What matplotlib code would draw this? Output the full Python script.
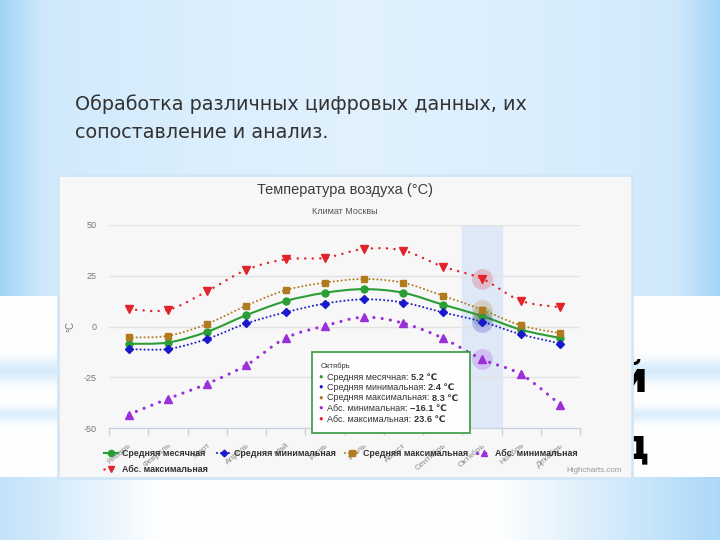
import numpy as np
import matplotlib
matplotlib.use("Agg")
import matplotlib.pyplot as plt
from matplotlib.path import Path
from matplotlib.patches import PathPatch, Rectangle
from matplotlib.lines import Line2D

plt.rcParams["font.family"] = ["Liberation Sans", "DejaVu Sans"]

# data (Moscow climate, deg C)
months = ["Январь", "Февраль", "Март", "Апрель", "Май", "Июнь",
          "Июль", "Август", "Сентябрь", "Октябрь", "Ноябрь", "Декабрь"]
avg_mean = [-8.5, -7.9, -2.6, 5.6, 12.5, 16.6, 18.4, 16.6, 10.8, 5.2, -1.6, -5.7]
avg_min = [-11.1, -11.1, -6.1, 1.5, 7.0, 11.3, 13.4, 11.8, 7.0, 2.4, -3.9, -8.4]
avg_max = [-5.4, -4.6, 1.3, 10.3, 17.9, 21.6, 23.4, 21.5, 15.2, 8.3, 0.5, -3.3]
abs_min = [-43.4, -35.6, -28.2, -19.0, -5.7, 0.3, 4.6, 1.6, -5.7, -16.1, -23.6, -38.5]
abs_max = [8.5, 8.2, 17.4, 27.9, 33.1, 33.8, 38.2, 37.4, 29.5, 23.6, 12.6, 9.5]
y_ticks = [-50, -25, 0, 25, 50]
series_names = ["Средняя месячная", "Средняя минимальная", "Средняя максимальная",
                "Абс. минимальная", "Абс. максимальная"]
highlight = 9  # October

W, H = 720, 540
fig = plt.figure(figsize=(7.2, 5.4), dpi=100)

# ---- slide background ----
yy, xx = np.mgrid[0:H, 0:W].astype(float)
light = np.array([0.88, 0.945, 0.995])
mid = np.array([0.80, 0.91, 0.985])
blue = np.array([0.64, 0.83, 0.97])
d = np.abs(xx - 360) / 360
bg = light + (mid - light) * np.clip(d, 0, 1)[..., None] ** 1.5
edge = np.clip((d - 0.88) / 0.12, 0, 1)
bg = bg + (blue - bg) * edge[..., None]
band = (yy >= 296) & (yy < 477)
white = np.array([0.995, 0.998, 1.0])
streak = np.array([0.80, 0.90, 0.975])
s = 0.75 * np.exp(-((yy - 370) / 11) ** 2) + 0.65 * np.exp(-((yy - 414) / 7) ** 2)
band_col = white + (streak - white) * np.clip(s, 0, 1)[..., None]
bg[band] = band_col[band]
low = yy >= 477
t = np.clip((np.abs(xx - 330) - 170) / 230, 0, 1)
low_col = white + (np.array([0.66, 0.84, 0.97]) - white) * t[..., None]
bg[low] = low_col[low]

ax_bg = fig.add_axes([0, 0, 1, 1], zorder=-10)
ax_bg.imshow(bg, extent=(0, W, H, 0), aspect="auto")
ax_bg.set_xlim(0, W)
ax_bg.set_ylim(H, 0)
ax_bg.axis("off")

ax_bg.text(75, 104, "Обработка различных цифровых данных, их", fontsize=13.8,
           color="#333333", va="center", family="DejaVu Sans")
ax_bg.text(75, 133, "сопоставление и анализ.", fontsize=13.8,
           color="#333333", va="center", family="DejaVu Sans")
ax_bg.text(648, 380, "й", fontsize=30, fontweight="bold", ha="right", va="center",
           color="black", family="DejaVu Sans")
ax_bg.text(649, 446, "д", fontsize=30, fontweight="bold", ha="right", va="center",
           color="black", family="DejaVu Sans")

# chart panel (screenshot frame)
ax_bg.add_patch(Rectangle((58, 175), 574, 303, facecolor="#f7f7f7",
                          edgecolor="#d2e6f6", lw=2, zorder=3))
ax_bg.text(345, 190, "Температура воздуха (°C)", fontsize=10.5, color="#3d3d3d",
           ha="center", va="center", zorder=4)
ax_bg.text(345, 212, "Климат Москвы", fontsize=6.5, color="#555555",
           ha="center", va="center", zorder=4)
ax_bg.text(622, 470, "Highcharts.com", fontsize=5.8, color="#999999",
           ha="right", va="center", zorder=4)

# ---- chart ----
ax = fig.add_axes([109 / W, (H - 428) / H, 471 / W, 203 / H])
ax.set_facecolor("none")
ax.set_xlim(-0.5, len(months) - 0.5)
ax.set_ylim(-50, 50)

ax.axvspan(highlight - 0.5, highlight + 0.5, color="#dfe8f7", zorder=0)
for v in y_ticks:
    ax.axhline(v, color="#e2e2e2", lw=1, zorder=0.5)

def spline_path(vals):
    pts = np.column_stack([np.arange(len(vals)), vals]).astype(float)
    verts, codes = [pts[0]], [Path.MOVETO]
    n = len(pts)
    for i in range(n - 1):
        p0, p1 = pts[max(i - 1, 0)], pts[i]
        p2, p3 = pts[i + 1], pts[min(i + 2, n - 1)]
        verts += [p1 + (p2 - p0) / 6, p2 - (p3 - p1) / 6, p2]
        codes += [Path.CURVE4] * 3
    return Path(verts, codes)

series = [
    (avg_mean, "#2a9e34", "o", "-", 1.5, 5.0),
    (avg_min, "#1a1acc", "D", (0, (0.01, 1.9)), 1.5, 3.8),
    (avg_max, "#b27a1e", "s", (0, (0.01, 1.9)), 1.5, 5.0),
    (abs_min, "#9b30d9", "^", (0, (0.01, 2.6)), 2.3, 5.5),
    (abs_max, "#e0242b", "v", (0, (0.01, 3.0)), 1.8, 5.5),
]
handles = []
for (vals, col, mk, ls, lw, ms), name in zip(series, series_names):
    ax.add_patch(PathPatch(spline_path(vals), fill=False, edgecolor=col, lw=lw,
                           linestyle=ls, capstyle="round", zorder=2))
    ax.plot(range(len(vals)), vals, linestyle="none", marker=mk, ms=ms,
            color=col, mec=col, zorder=3)
    ax.plot(highlight, vals[highlight], "o", ms=15, color=col, alpha=0.22,
            mec="none", zorder=2.5)
    handles.append(Line2D([], [], color=col, marker=mk, ms=ms * 0.9,
                          linestyle=ls, lw=lw, dash_capstyle="round", label=name))

ax.set_yticks(y_ticks)
ax.set_yticklabels([str(v) for v in y_ticks])
ax.tick_params(axis="y", length=0, labelsize=6.5, labelcolor="#777777", pad=9)
ax.set_ylabel("°C", fontsize=7, color="#777777", labelpad=6)

ax.set_xticks(np.arange(-0.5, len(months)))
ax.set_xticklabels([])
ax.tick_params(axis="x", which="major", length=5, color="#c4d2e0", width=1)
ax.set_xticks(range(len(months)), minor=True)
ax.set_xticklabels(months, minor=True, rotation=40, ha="right",
                   rotation_mode="anchor", fontsize=6, color="#8a8a8a")
ax.tick_params(axis="x", which="minor", length=0, pad=10)
for side in ["top", "right", "left"]:
    ax.spines[side].set_visible(False)
ax.spines["bottom"].set_color("#c4d2e0")

# legend, row-major like the original
order = [0, 4, 1, 2, 3]
leg = ax.legend([handles[i] for i in order], [series_names[i] for i in order],
                ncol=4, loc="upper left", bbox_to_anchor=(104 / W, 1 - 449 / H),
                bbox_transform=fig.transFigure, frameon=False,
                prop={"size": 6.4, "weight": "bold"}, handlelength=1.6,
                handletextpad=0.4, columnspacing=1.0, labelspacing=0.75,
                borderpad=0, borderaxespad=0)
for txt in leg.get_texts():
    txt.set_color("#333333")

# ---- tooltip ----
ax_top = fig.add_axes([0, 0, 1, 1], zorder=10)
ax_top.set_xlim(0, W)
ax_top.set_ylim(H, 0)
ax_top.axis("off")
ax_top.add_patch(Rectangle((312, 352), 158, 81, facecolor="white",
                           edgecolor="#3d9a45", lw=1.3, alpha=0.95))
ax_top.text(321, 366, months[highlight], fontsize=5.5, color="#333333", va="center")
values = [avg_mean, avg_min, avg_max, abs_min, abs_max]
for k, (vals, spec, name) in enumerate(zip(values, series, series_names)):
    yline = 377 + k * 10.5
    ax_top.text(318, yline, "●", fontsize=5.5, color=spec[1], va="center")
    lab = ax_top.text(327, yline, name + ": ", fontsize=6.5, color="#333333",
                      va="center")
    val = f"{vals[highlight]:.1f}".replace("-", "−")
    ax_top.annotate(val + " ℃", xy=(1, 0.5), xycoords=lab, va="center",
                    fontsize=6.6, fontweight="bold", color="#333333")

fig.savefig("out.png", dpi=100)
